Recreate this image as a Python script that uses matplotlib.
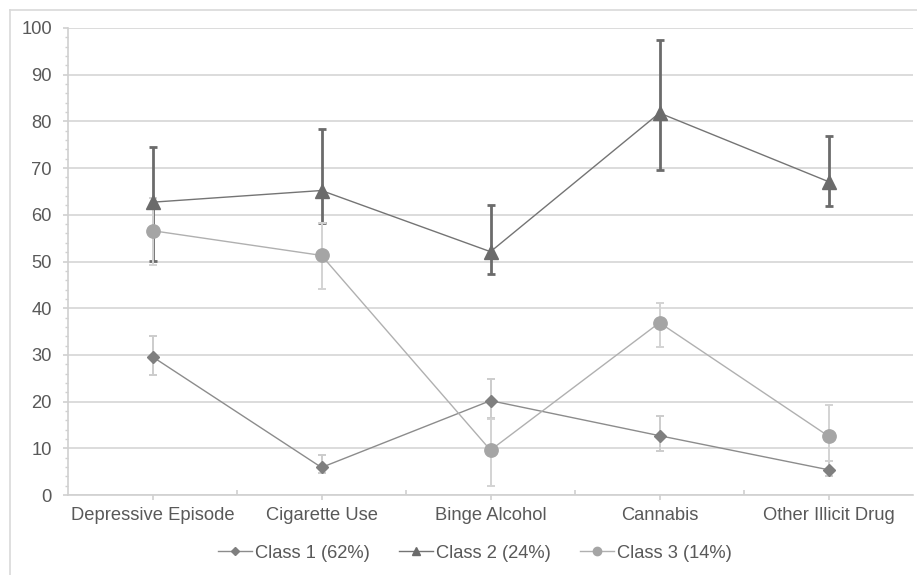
import matplotlib
matplotlib.use("Agg")
import matplotlib.pyplot as plt
import numpy as np
from matplotlib.lines import Line2D

categories = ["Depressive Episode", "Cigarette Use", "Binge Alcohol", "Cannabis", "Other Illicit Drug"]
series_names = ["Class 1 (62%)", "Class 2 (24%)", "Class 3 (14%)"]

class1 = [29.6, 5.9, 20.2, 12.7, 5.4]
class1_low = [25.6, 4.7, 16.5, 9.4, 4.0]
class1_high = [34.0, 8.6, 24.8, 17.0, 7.2]

class2 = [62.7, 65.2, 52.1, 81.8, 67.1]
class2_low = [50.1, 58.2, 47.4, 69.6, 61.8]
class2_high = [74.6, 78.4, 62.1, 97.5, 76.8]

class3 = [56.6, 51.3, 9.6, 36.9, 12.6]
class3_low = [49.3, 44.1, 2.0, 31.6, 7.3]
class3_high = [63.6, 58.2, 16.2, 41.1, 19.3]

yticks = [0, 10, 20, 30, 40, 50, 60, 70, 80, 90, 100]

plt.rcParams['font.family'] = ['Liberation Sans', 'DejaVu Sans']

W, H = 917, 575
fig = plt.figure(figsize=(W / 100, H / 100), dpi=100)
ax = fig.add_axes([68 / W, 1 - 495 / H, (913 - 68) / W, (495 - 28) / H])

x = np.arange(len(categories))

styles = [
    dict(data=class1, lo=class1_low, hi=class1_high, marker='D', ms=6.5, lms=4.5,
         color='#7f7f7f', lcolor='#8c8c8c', ecolor='#cccccc', elw=1.4, lw=1.0),
    dict(data=class2, lo=class2_low, hi=class2_high, marker='^', ms=9.5, lms=6,
         color='#6b6b6b', lcolor='#747474', ecolor='#6b6b6b', elw=2.0, lw=1.0),
    dict(data=class3, lo=class3_low, hi=class3_high, marker='o', ms=9.6, lms=6,
         color='#a5a5a5', lcolor='#b0b0b0', ecolor='#d3d3d3', elw=1.4, lw=1.0),
]

handles = []
for name, s in zip(series_names, styles):
    d = np.array(s['data'])
    yerr = np.vstack([d - np.array(s['lo']), np.array(s['hi']) - d])
    ax.errorbar(x, d, yerr=yerr, fmt='none', ecolor=s['ecolor'], elinewidth=s['elw'],
                capsize=3, capthick=s['elw'], zorder=3)
    ax.plot(x, d, color=s['lcolor'], lw=s['lw'], marker=s['marker'], ms=s['ms'],
            markerfacecolor=s['color'], markeredgecolor=s['color'], zorder=4)
    handles.append(Line2D([], [], color=s['lcolor'], lw=1.0, marker=s['marker'],
                          ms=s['lms'], markerfacecolor=s['color'],
                          markeredgecolor=s['color'], label=name))

ax.set_xlim(-0.5, len(categories) - 0.5)
ax.set_ylim(0, 100)
ax.set_yticks(yticks)
ax.set_yticks(np.arange(0, 101, 2), minor=True)
ax.set_xticks(x)
ax.set_xticklabels(categories)
ax.set_xticks(np.arange(0.5, len(categories) - 0.5, 1.0), minor=True)

ax.grid(axis='y', which='major', color='#d9d9d9', lw=1.3, zorder=0)
ax.set_axisbelow(True)

for sp in ['top', 'right']:
    ax.spines[sp].set_visible(False)
for sp in ['left', 'bottom']:
    ax.spines[sp].set_color('#d0d0d0')
    ax.spines[sp].set_linewidth(1.2)

FS = 13.2
ax.tick_params(axis='y', which='major', length=3.6, color='#d0d0d0', width=1.2,
               labelsize=FS, labelcolor='#595959', pad=8)
ax.tick_params(axis='y', which='minor', length=2.4, color='#d0d0d0', width=1.0)
ax.tick_params(axis='x', which='major', length=3.6, color='#d0d0d0', width=1.2,
               direction='out', labelsize=FS, labelcolor='#595959', pad=5)
ax.tick_params(axis='x', which='minor', length=3.6, color='#d0d0d0', width=1.2,
               direction='in')

leg = fig.legend(handles=handles, loc='center', bbox_to_anchor=(475 / W, 1 - 553 / H),
                 ncol=3, frameon=False, fontsize=FS, handlelength=1.85,
                 handletextpad=0.15, columnspacing=1.6, borderpad=0, borderaxespad=0)
for t in leg.get_texts():
    t.set_color('#595959')

# chart border (left and top visible)
fig.add_artist(Line2D([10 / W, 10 / W], [0, 1 - 10 / H], transform=fig.transFigure,
                      color='#d9d9d9', lw=1.2))
fig.add_artist(Line2D([10 / W, 1], [1 - 10 / H, 1 - 10 / H], transform=fig.transFigure,
                      color='#d9d9d9', lw=1.2))

fig.savefig("out.png", dpi=100, facecolor='white')
